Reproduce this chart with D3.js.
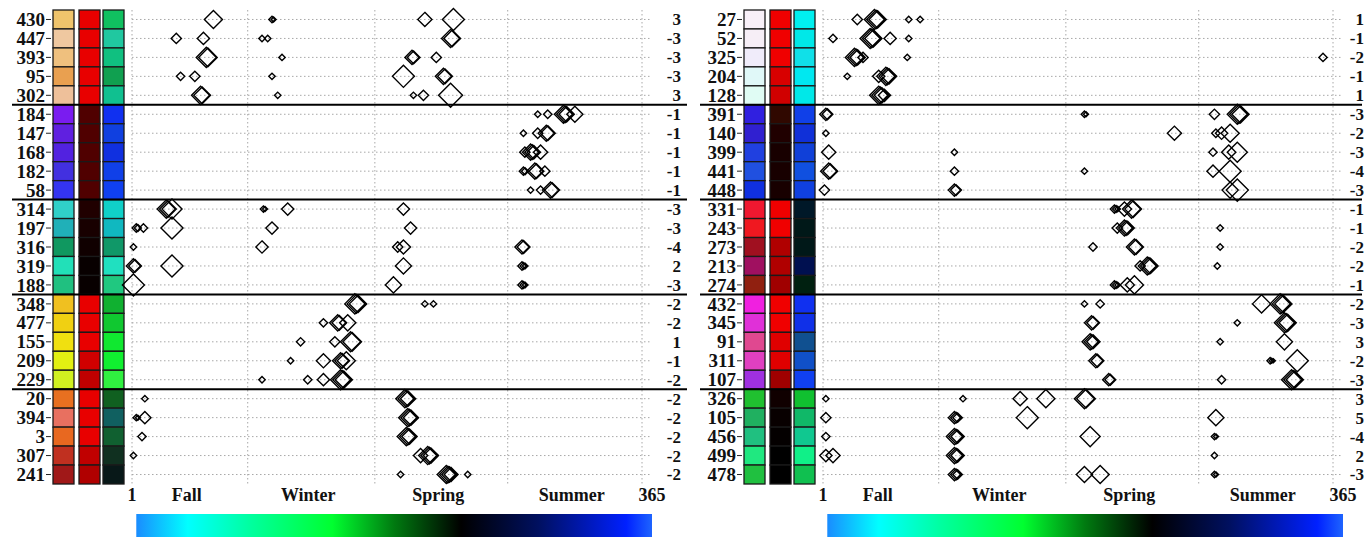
<!DOCTYPE html>
<html>
<head>
<meta charset="utf-8">
<script src="https://cdn.jsdelivr.net/npm/d3@7"></script>
<style>
  body { margin: 0; background: #fff; }
  text { font-family: "Liberation Serif", "Times New Roman", serif; font-weight: bold; fill: #111; }
</style>
</head>
<body>
<svg id="chart" width="1366" height="537"></svg>
<script>
// ---- data ----
var seasonDays = [1, 82, 171, 264, 358];
var seasonNames = ["Fall", "Winter", "Spring", "Summer"];
var axisEnds = [1, 365];

var leftIds = ["430","447","393","95","302","184","147","168","182","58","314","197","316","319","188",
               "348","477","155","209","229","20","394","3","307","241"];
var leftVals = ["3","-3","-3","-3","3","-1","-1","-1","-1","-1","-3","-3","-4","2","-3",
                "-2","-2","1","-1","-2","-2","-2","-2","-2","-2"];
var leftCol1 = ["#efc46c","#efc8a0","#efc07e","#e9a050","#eec09a",
                "#7a1cf0","#6020e0","#5222e0","#4230e0","#3434f0",
                "#30d0c8","#20b0b8","#109860","#22e0b8","#20c080",
                "#f0c020","#f0d012","#f0e010","#e2f012","#d0f020",
                "#e87020","#e87060","#e86820","#c03020","#a01818"];
var leftCol2 = ["#e80000","#e80000","#e80000","#e80000","#e80000",
                "#500000","#500000","#500000","#500000","#500000",
                "#200000","#180000","#100000","#080000","#080000",
                "#e80000","#e80000","#e80000","#d00000","#c00000",
                "#e80000","#e80000","#e80000","#c00000","#b00000"];
var leftCol3 = ["#10c060","#20c8a0","#10c080","#10a050","#10c090",
                "#1030f0","#1040e0","#1030e0","#1040e8","#1040f0",
                "#10d0c8","#10b8c0","#109868","#20e0c0","#20c880",
                "#10b030","#10c830","#10e830","#10f030","#30f040",
                "#106020","#106060","#106030","#103020","#081818"];
// markers per row: [day, size, overlap count]
var leftMarks = [
  [[58,9,1],[99,3,2],[206,7,1],[226,11,1]],
  [[32,5,1],[51,6,1],[92,3,1],[96,3,1],[224,9,2]],
  [[53,10,2],[106,3,1],[197,7,2],[214,5,1]],
  [[35,4,1],[45,5,1],[99,3,1],[191,11,1],[219,8,2]],
  [[49,9,2],[103,3,1],[198,3,1],[205,5,1],[224,12,1]],
  [[285,3,1],[292,4,1],[303,9,3],[311,8,1]],
  [[275,3,1],[285,5,1],[291,8,2]],
  [[276,5,1],[280,8,3],[287,7,1]],
  [[275,4,2],[283,8,2],[290,5,1]],
  [[280,3,1],[287,4,1],[294,8,2]],
  [[25,9,2],[29,10,1],[93,3,2],[110,6,1],[191,6,1]],
  [[4,4,2],[9,4,1],[29,11,1],[99,6,1],[196,6,1]],
  [[2,3,1],[92,6,1],[187,5,1],[191,7,1],[274,7,2]],
  [[2,7,2],[29,11,1],[191,8,1],[274,4,3]],
  [[2,11,1],[184,8,1],[274,4,3]],
  [[157,10,3],[206,3,1],[212,3,1]],
  [[135,4,1],[145,8,2],[152,8,1]],
  [[119,4,1],[143,5,1],[154,10,2]],
  [[112,3,1],[135,7,1],[147,8,2],[151,9,1]],
  [[92,3,1],[124,4,1],[135,6,1],[147,10,3]],
  [[10,3,1],[192,9,3]],
  [[4,3,2],[10,6,1],[194,9,3]],
  [[8,4,1],[193,9,3]],
  [[2,3,1],[203,7,1],[208,9,3]],
  [[189,3,1],[221,9,4],[236,3,1]]
];

var rightIds = ["27","52","325","204","128","391","140","399","441","448","331","243","273","213","274",
                "432","345","91","311","107","326","105","456","499","478"];
var rightVals = ["1","-1","-2","-1","1","-3","-2","-3","-4","-3","-1","-1","-2","-2","-1",
                 "-2","-3","3","-2","-3","3","5","-4","2","-3"];
var rightCol1 = ["#f8f0f8","#f6eef6","#f0ecfa","#e0f8f8","#e0fcf4",
                 "#3020e0","#3020d0","#2040e0","#2050e0","#1030e0",
                 "#f01830","#f01820","#a01020","#a01060","#902010",
                 "#f020e0","#e030d8","#e04890","#e040c0","#a030e0",
                 "#20c030","#20b060","#20c080","#20e880","#20c040"];
var rightCol2 = ["#f00000","#f00000","#f00000","#d80000","#d00000",
                 "#300800","#200000","#180000","#180000","#180000",
                 "#f00000","#f00000","#b00000","#b00000","#a00000",
                 "#f00000","#f00000","#e00000","#e00000","#a00000",
                 "#100000","#080000","#040000","#000000","#000000"];
var rightCol3 = ["#00f0f0","#00e8e8","#10e0e8","#00e8f0","#00e8e8",
                 "#1040e8","#1030d8","#1040d8","#1050e0","#1040e0",
                 "#001828","#001818","#001818","#001050","#002010",
                 "#1030f0","#1030e8","#105090","#1050c8","#1040f0",
                 "#10c030","#10b868","#10c890","#10f088","#10c050"];
var rightMarks = [
  [[25,5,1],[37,10,3],[61,3,1],[69,3,1]],
  [[8,4,1],[34,10,3],[48,6,1],[61,3,1]],
  [[23,9,3],[29,5,1],[60,3,1],[351,4,1]],
  [[18,3,1],[40,6,1],[45,9,3]],
  [[40,9,3],[44,6,1]],
  [[3,6,2],[184,3,2],[275,5,1],[291,10,3]],
  [[3,3,1],[247,7,1],[276,4,1],[280,6,1],[286,9,1]],
  [[5,7,1],[93,3,1],[274,4,1],[285,7,1],[291,10,1]],
  [[5,8,2],[93,4,1],[184,3,1],[274,6,1],[286,11,1]],
  [[2,5,1],[93,6,2],[286,8,1],[291,11,1]],
  [[205,4,3],[212,7,1],[217,9,2]],
  [[207,5,1],[212,8,3],[279,3,1]],
  [[190,4,1],[219,8,2],[279,3,1]],
  [[223,5,1],[228,9,3],[277,3,1]],
  [[205,4,3],[214,7,1],[219,9,1]],
  [[184,3,1],[195,4,1],[308,9,1],[321,10,3]],
  [[189,7,2],[291,3,1],[324,10,3]],
  [[188,8,3],[279,3,1],[324,8,1]],
  [[192,7,2],[314,3,3],[333,11,1]],
  [[201,6,2],[280,4,1],[329,10,3]],
  [[3,3,1],[99,3,1],[139,7,1],[157,9,1],[184,10,2]],
  [[3,5,1],[93,6,3],[144,11,1],[276,8,1]],
  [[3,4,1],[93,8,3],[188,10,1],[275,3,2]],
  [[3,6,1],[8,7,1],[93,8,3],[275,3,1]],
  [[93,6,3],[184,8,1],[195,9,1],[275,3,2]]
];

var barStops = [
  [0, "#1a8cff"], [0.1, "#00ffff"], [0.22, "#00ffa0"], [0.38, "#00ff30"],
  [0.5, "#007a10"], [0.63, "#000000"], [0.78, "#001060"], [0.95, "#0020ff"], [1, "#1e64ff"]
];

// ---- drawing ----
var svg = d3.select("#chart");
var rows = d3.scaleBand().domain(d3.range(25)).range([10, 484]);
var rowY = function(i) { return rows(i) + rows.bandwidth() / 2; };
var radius = d3.scaleLinear().domain([3, 12]).range([3.2, 12]);
var diamond = function(r) { return "M0," + (-r) + "L" + r + ",0L0," + r + "L" + (-r) + ",0Z"; };

var defs = svg.append("defs");
var grad = defs.append("linearGradient").attr("id", "seasonGrad");
grad.selectAll("stop").data(barStops).enter().append("stop")
    .attr("offset", function(d) { return d[0]; })
    .attr("stop-color", function(d) { return d[1]; });

function drawPanel(dx, ids, vals, c1, c2, c3, marks, sepX0, sepX1, valX) {
  var g = svg.append("g").attr("transform", "translate(" + dx + ",0)");
  var x = d3.scaleLinear().domain([1, 365]).range([132, 652]);

  // grid
  g.append("g").selectAll("line").data(d3.range(25)).enter().append("line")
      .attr("x1", x(1)).attr("x2", x(365))
      .attr("y1", rowY).attr("y2", rowY)
      .attr("stroke", "#a8a8a8").attr("stroke-dasharray", "1.5,2.5");
  g.append("g").selectAll("line").data(seasonDays).enter().append("line")
      .attr("x1", function(d) { return x(d); }).attr("x2", function(d) { return x(d); })
      .attr("y1", 10).attr("y2", 484)
      .attr("stroke", "#a8a8a8").attr("stroke-dasharray", "1.5,2.5");

  // color columns
  [[c1, 53], [c2, 79], [c3, 103]].forEach(function(col) {
    g.append("g").selectAll("rect").data(col[0]).enter().append("rect")
        .attr("x", col[1]).attr("width", 21)
        .attr("y", function(d, i) { return rows(i); })
        .attr("height", rows.bandwidth())
        .attr("fill", function(d) { return d; })
        .attr("stroke", "#1a1a1a").attr("stroke-width", 1.3);
  });

  // row labels + ticks
  g.append("g").selectAll("text").data(ids).enter().append("text")
      .attr("x", 45).attr("y", function(d, i) { return rowY(i); })
      .attr("dy", "0.35em").attr("text-anchor", "end")
      .style("font-size", "19px").text(function(d) { return d; });
  g.append("g").selectAll("line").data(ids).enter().append("line")
      .attr("x1", 46).attr("x2", 51)
      .attr("y1", function(d, i) { return rowY(i); }).attr("y2", function(d, i) { return rowY(i); })
      .attr("stroke", "#222");

  // right values
  g.append("g").selectAll("text").data(vals).enter().append("text")
      .attr("x", valX).attr("y", function(d, i) { return rowY(i); })
      .attr("dy", "0.35em").attr("text-anchor", "end")
      .style("font-size", "17px")
      .text(function(d) { return d; });

  // group separators
  g.append("g").selectAll("line").data([5, 10, 15, 20]).enter().append("line")
      .attr("x1", sepX0).attr("x2", sepX1)
      .attr("y1", function(d) { return rows(d); }).attr("y2", function(d) { return rows(d); })
      .attr("stroke", "#000").attr("stroke-width", 2);

  // diamonds: overlapping repeats are drawn as slightly shifted outlines
  marks.forEach(function(rowMarks, i) {
    var copies = [];
    rowMarks.forEach(function(d) {
      d3.range(d[2]).forEach(function(k) { copies.push({ day: d[0], size: d[1], k: k }); });
    });
    g.append("g").selectAll("path").data(copies).enter().append("path")
        .attr("transform", function(d) { return "translate(" + (x(d.day) + d.k * 1.6) + "," + rowY(i) + ")"; })
        .attr("d", function(d) { return diamond(Math.max(2, radius(d.size) - d.k * 0.7)); })
        .attr("fill", "none")
        .attr("stroke", "#000")
        .attr("stroke-width", 1.4);
  });

  // axis labels
  g.append("g").selectAll("text").data(axisEnds).enter().append("text")
      .attr("x", function(d) { return x(d); }).attr("y", 501)
      .attr("text-anchor", "middle").style("font-size", "18px")
      .text(function(d) { return d; });
  g.append("g").selectAll("text").data(seasonNames).enter().append("text")
      .attr("x", function(d, i) { return x((seasonDays[i] + seasonDays[i + 1]) / 2) - 3; }).attr("y", 501)
      .attr("text-anchor", "middle").style("font-size", "18px")
      .text(function(d) { return d; });

  // color bar
  g.append("rect")
      .attr("x", x(4)).attr("y", 514)
      .attr("width", x(365) - x(4)).attr("height", 24)
      .attr("fill", "url(#seasonGrad)");
}

drawPanel(0, leftIds, leftVals, leftCol1, leftCol2, leftCol3, leftMarks, 12, 687, 681);
drawPanel(691, rightIds, rightVals, rightCol1, rightCol2, rightCol3, rightMarks, 9, 671, 673);
</script>
</body>
</html>
